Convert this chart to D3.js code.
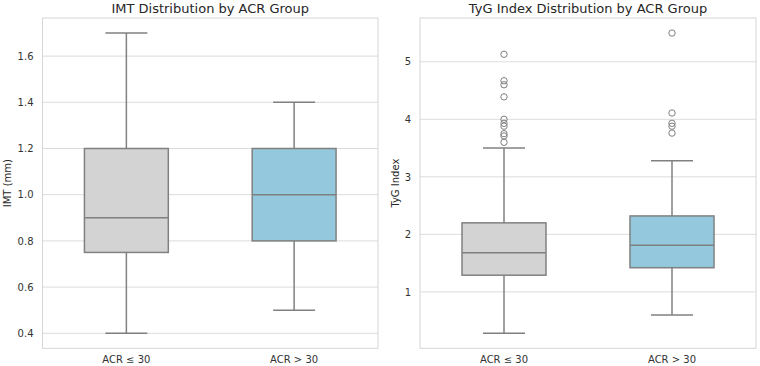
<!DOCTYPE html>
<html>
<head>
<meta charset="utf-8">
<script src="https://cdn.jsdelivr.net/npm/d3@7"></script>
<style>
  body { margin: 0; background: #fff; }
  svg { display: block; font-family: "DejaVu Sans", sans-serif; }
  .tick text { fill: #333; }
</style>
</head>
<body>
<div id="chart"></div>
<script>
const groups = ["ACR \u2264 30", "ACR > 30"];
const groupColors = ["#d3d3d3", "#93c8dd"];

// [whiskerLow, q1, median, q3, whiskerHigh]
const imtStats = [
  [0.4, 0.75, 0.9, 1.2, 1.7],
  [0.5, 0.8, 1.0, 1.2, 1.4]
];
const imtOutliers = [[], []];
const imtTicks = [0.4, 0.6, 0.8, 1.0, 1.2, 1.4, 1.6];

const tygStats = [
  [0.28, 1.29, 1.68, 2.20, 3.50],
  [0.60, 1.42, 1.81, 2.32, 3.28]
];
const tygOutliers = [
  [5.13, 4.67, 4.60, 4.39, 4.00, 3.93, 3.88, 3.75, 3.71, 3.60],
  [5.50, 4.11, 3.93, 3.88, 3.76]
];
const tygTicks = [1, 2, 3, 4, 5];

const width = 760, height = 366;
const svg = d3.select("#chart").append("svg")
  .attr("width", width)
  .attr("height", height);

const panels = [
  {title: "IMT Distribution by ACR Group", yLabel: "IMT (mm)", stats: imtStats, outliers: imtOutliers,
   ticks: imtTicks, fmt: d3.format(".1f"), x0: 42.5, x1: 378, labelX: 7.5},
  {title: "TyG Index Distribution by ACR Group", yLabel: "TyG Index", stats: tygStats, outliers: tygOutliers,
   ticks: tygTicks, fmt: d3.format("d"), x0: 420, x1: 756, labelX: 395}
];

const plotTop = 18, plotBottom = 348.3;

panels.forEach(p => {
  const all = p.stats.flat().concat(p.outliers.flat());
  const lo = d3.min(all), hi = d3.max(all);
  const pad = (hi - lo) * 0.05;

  const y = d3.scaleLinear().domain([lo - pad, hi + pad]).range([plotBottom, plotTop]);
  const x = d3.scaleBand().domain(groups).range([p.x0, p.x1]);

  const g = svg.append("g");

  // grid
  g.append("g")
    .selectAll("line")
    .data(p.ticks)
    .enter().append("line")
    .attr("x1", p.x0).attr("x2", p.x1)
    .attr("y1", d => y(d)).attr("y2", d => y(d))
    .attr("stroke", "#dcdcdc")
    .attr("stroke-width", 1);

  // frame
  g.append("rect")
    .attr("x", p.x0).attr("y", plotTop)
    .attr("width", p.x1 - p.x0).attr("height", plotBottom - plotTop)
    .attr("fill", "none")
    .attr("stroke", "#d6d6d6")
    .attr("stroke-width", 1);

  // y axis
  const yAxis = g.append("g")
    .attr("transform", `translate(${p.x0},0)`)
    .call(d3.axisLeft(y).tickValues(p.ticks).tickFormat(p.fmt).tickSize(0).tickPadding(9));
  yAxis.select(".domain").remove();
  yAxis.selectAll("text").attr("font-size", 10).attr("font-family", "DejaVu Sans");

  // x axis
  const xAxis = g.append("g")
    .attr("transform", `translate(0,${plotBottom})`)
    .call(d3.axisBottom(x).tickSize(0).tickPadding(8));
  xAxis.select(".domain").remove();
  xAxis.selectAll("text").attr("font-size", 10).attr("font-family", "DejaVu Sans");

  // title
  g.append("text")
    .attr("x", (p.x0 + p.x1) / 2).attr("y", 12.5)
    .attr("text-anchor", "middle")
    .attr("font-size", 13)
    .attr("fill", "#262626")
    .text(p.title);

  // y label
  g.append("text")
    .attr("transform", `translate(${p.labelX},${(plotTop + plotBottom) / 2}) rotate(-90)`)
    .attr("text-anchor", "middle")
    .attr("dominant-baseline", "central")
    .attr("font-size", 10)
    .attr("fill", "#262626")
    .text(p.yLabel);

  // boxes
  const boxW = x.bandwidth() * 0.5;
  const capW = boxW * 0.5;
  const stroke = "#808080";

  groups.forEach((grp, i) => {
    const s = p.stats[i];
    const cx = x(grp) + x.bandwidth() / 2;
    const bg = g.append("g");

    bg.append("line")
      .attr("x1", cx).attr("x2", cx)
      .attr("y1", y(s[0])).attr("y2", y(s[1]))
      .attr("stroke", stroke).attr("stroke-width", 1.5);
    bg.append("line")
      .attr("x1", cx).attr("x2", cx)
      .attr("y1", y(s[3])).attr("y2", y(s[4]))
      .attr("stroke", stroke).attr("stroke-width", 1.5);
    [s[0], s[4]].forEach(v => {
      bg.append("line")
        .attr("x1", cx - capW / 2).attr("x2", cx + capW / 2)
        .attr("y1", y(v)).attr("y2", y(v))
        .attr("stroke", stroke).attr("stroke-width", 1.5);
    });
    bg.append("rect")
      .attr("x", cx - boxW / 2).attr("y", y(s[3]))
      .attr("width", boxW).attr("height", y(s[1]) - y(s[3]))
      .attr("fill", groupColors[i])
      .attr("stroke", stroke).attr("stroke-width", 1.5);
    bg.append("line")
      .attr("x1", cx - boxW / 2).attr("x2", cx + boxW / 2)
      .attr("y1", y(s[2])).attr("y2", y(s[2]))
      .attr("stroke", stroke).attr("stroke-width", 1.5);

    bg.selectAll("circle")
      .data(p.outliers[i])
      .enter().append("circle")
      .attr("cx", cx).attr("cy", d => y(d))
      .attr("r", 3.2)
      .attr("fill", "none")
      .attr("stroke", stroke).attr("stroke-width", 1);
  });
});
</script>
</body>
</html>
